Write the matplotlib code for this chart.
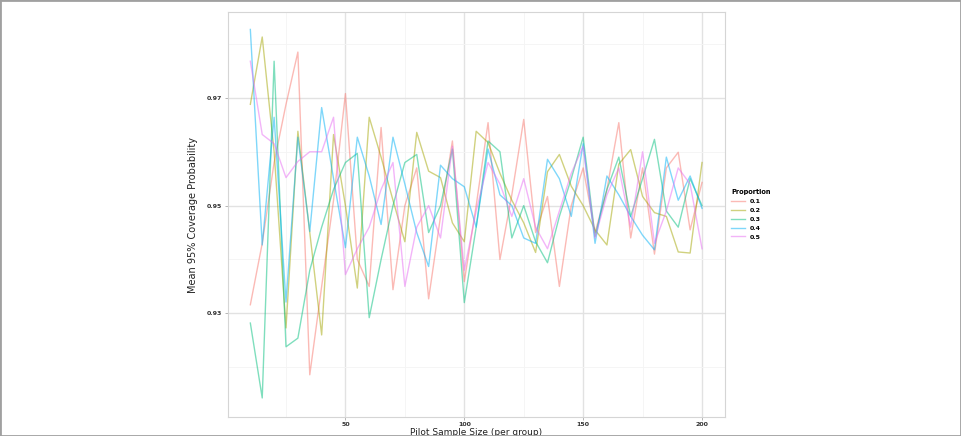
import matplotlib
matplotlib.use("Agg")
import matplotlib.pyplot as plt
from matplotlib.patches import Rectangle

# pilot sample size per group
sizes = list(range(10, 205, 5))

p01 = [0.9316, 0.9430, 0.9580, 0.9688, 0.9785, 0.9186, 0.9350, 0.9510, 0.9708, 0.9400,
       0.9350, 0.9645, 0.9344, 0.9500, 0.9570, 0.9327, 0.9480, 0.9620, 0.9359, 0.9500,
       0.9654, 0.9400, 0.9520, 0.9660, 0.9450, 0.9517, 0.9350, 0.9500, 0.9570, 0.9450,
       0.9530, 0.9654, 0.9440, 0.9570, 0.9410, 0.9570, 0.9599, 0.9455, 0.9543]
p02 = [0.9688, 0.9813, 0.9600, 0.9273, 0.9638, 0.9450, 0.9260, 0.9632, 0.9500, 0.9347,
       0.9664, 0.9590, 0.9510, 0.9433, 0.9636, 0.9564, 0.9552, 0.9468, 0.9433, 0.9638,
       0.9617, 0.9560, 0.9510, 0.9468, 0.9413, 0.9563, 0.9595, 0.9536, 0.9500, 0.9455,
       0.9427, 0.9577, 0.9604, 0.9517, 0.9487, 0.9480, 0.9414, 0.9412, 0.9580]
p03 = [0.9282, 0.9143, 0.9768, 0.9238, 0.9254, 0.9380, 0.9460, 0.9530, 0.9580, 0.9597,
       0.9292, 0.9400, 0.9500, 0.9580, 0.9595, 0.9450, 0.9500, 0.9605, 0.9320, 0.9460,
       0.9620, 0.9600, 0.9440, 0.9500, 0.9433, 0.9394, 0.9480, 0.9550, 0.9627, 0.9443,
       0.9530, 0.9590, 0.9480, 0.9550, 0.9623, 0.9490, 0.9460, 0.9550, 0.9500]
p04 = [0.9827, 0.9427, 0.9664, 0.9321, 0.9627, 0.9452, 0.9682, 0.9550, 0.9422, 0.9627,
       0.9555, 0.9465, 0.9627, 0.9540, 0.9450, 0.9387, 0.9575, 0.9550, 0.9535, 0.9460,
       0.9605, 0.9520, 0.9500, 0.9440, 0.9430, 0.9586, 0.9550, 0.9480, 0.9615, 0.9430,
       0.9555, 0.9520, 0.9480, 0.9445, 0.9418, 0.9590, 0.9510, 0.9555, 0.9495]
p05 = [0.9768, 0.9632, 0.9615, 0.9552, 0.9582, 0.9600, 0.9600, 0.9664, 0.9372, 0.9420,
       0.9460, 0.9530, 0.9580, 0.9350, 0.9460, 0.9500, 0.9440, 0.9610, 0.9380, 0.9490,
       0.9580, 0.9540, 0.9480, 0.9550, 0.9460, 0.9420, 0.9490, 0.9560, 0.9610, 0.9440,
       0.9520, 0.9570, 0.9460, 0.9600, 0.9430, 0.9490, 0.9570, 0.9540, 0.9420]

labels = ['0.1', '0.2', '0.3', '0.4', '0.5']
series = [p01, p02, p03, p04, p05]
colors = ['#F8766D', '#A3A500', '#00BF7D', '#00B0F6', '#E76BF3']


def main():
    fig = plt.figure(figsize=(9.61, 4.36), dpi=100)
    ax = fig.add_axes([0.237, 0.044, 0.517, 0.928])

    for lab, ys, c in zip(labels, series, colors):
        ax.plot(sizes, ys, color=c, alpha=0.5, lw=1.0, label=lab)

    ax.set_xlim(0.5, 209.5)
    ax.set_ylim(0.9108, 0.9859)
    ax.set_xticks([50, 100, 150, 200])
    ax.set_xticks([25, 75, 125, 175], minor=True)
    ax.set_yticks([0.93, 0.95, 0.97])
    ax.set_yticks([0.92, 0.94, 0.96, 0.98], minor=True)
    ax.set_xticklabels(['50', '100', '150', '200'], fontsize=4.5, fontweight='bold', color='#333333')
    ax.set_yticklabels(['0.93', '0.95', '0.97'], fontsize=4.5, fontweight='bold', color='#333333')
    ax.grid(True, which='major', color='#e2e2e2', lw=1.0)
    ax.grid(True, which='minor', color='#f4f4f4', lw=0.6)
    ax.set_axisbelow(True)
    ax.tick_params(which='major', length=2, width=0.5, color='#999999', pad=2)
    ax.tick_params(which='minor', length=0)
    for s in ax.spines.values():
        s.set_color('#d5d5d5')
        s.set_linewidth(0.8)

    ax.set_xlabel('Pilot Sample Size (per group)', fontsize=6.5, color='#222222', labelpad=0.5)
    ax.set_ylabel('Mean 95% Coverage Probability', fontsize=7, color='#222222', labelpad=6)

    leg = ax.legend(loc='center left', bbox_to_anchor=(1.008, 0.5), frameon=False,
                    title='Proportion', fontsize=4.5, title_fontsize=4.8,
                    handlelength=2.2, labelspacing=0.55, borderaxespad=0)
    leg.get_title().set_fontweight('bold')
    leg._legend_box.align = 'left'
    for t in leg.get_texts():
        t.set_fontweight('bold')

    fig.patches.append(Rectangle((0, 0), 1, 1, transform=fig.transFigure,
                                 fill=False, edgecolor='#a0a0a0', lw=2.0))

    fig.savefig('out.png', dpi=100)


if __name__ == '__main__':
    main()
